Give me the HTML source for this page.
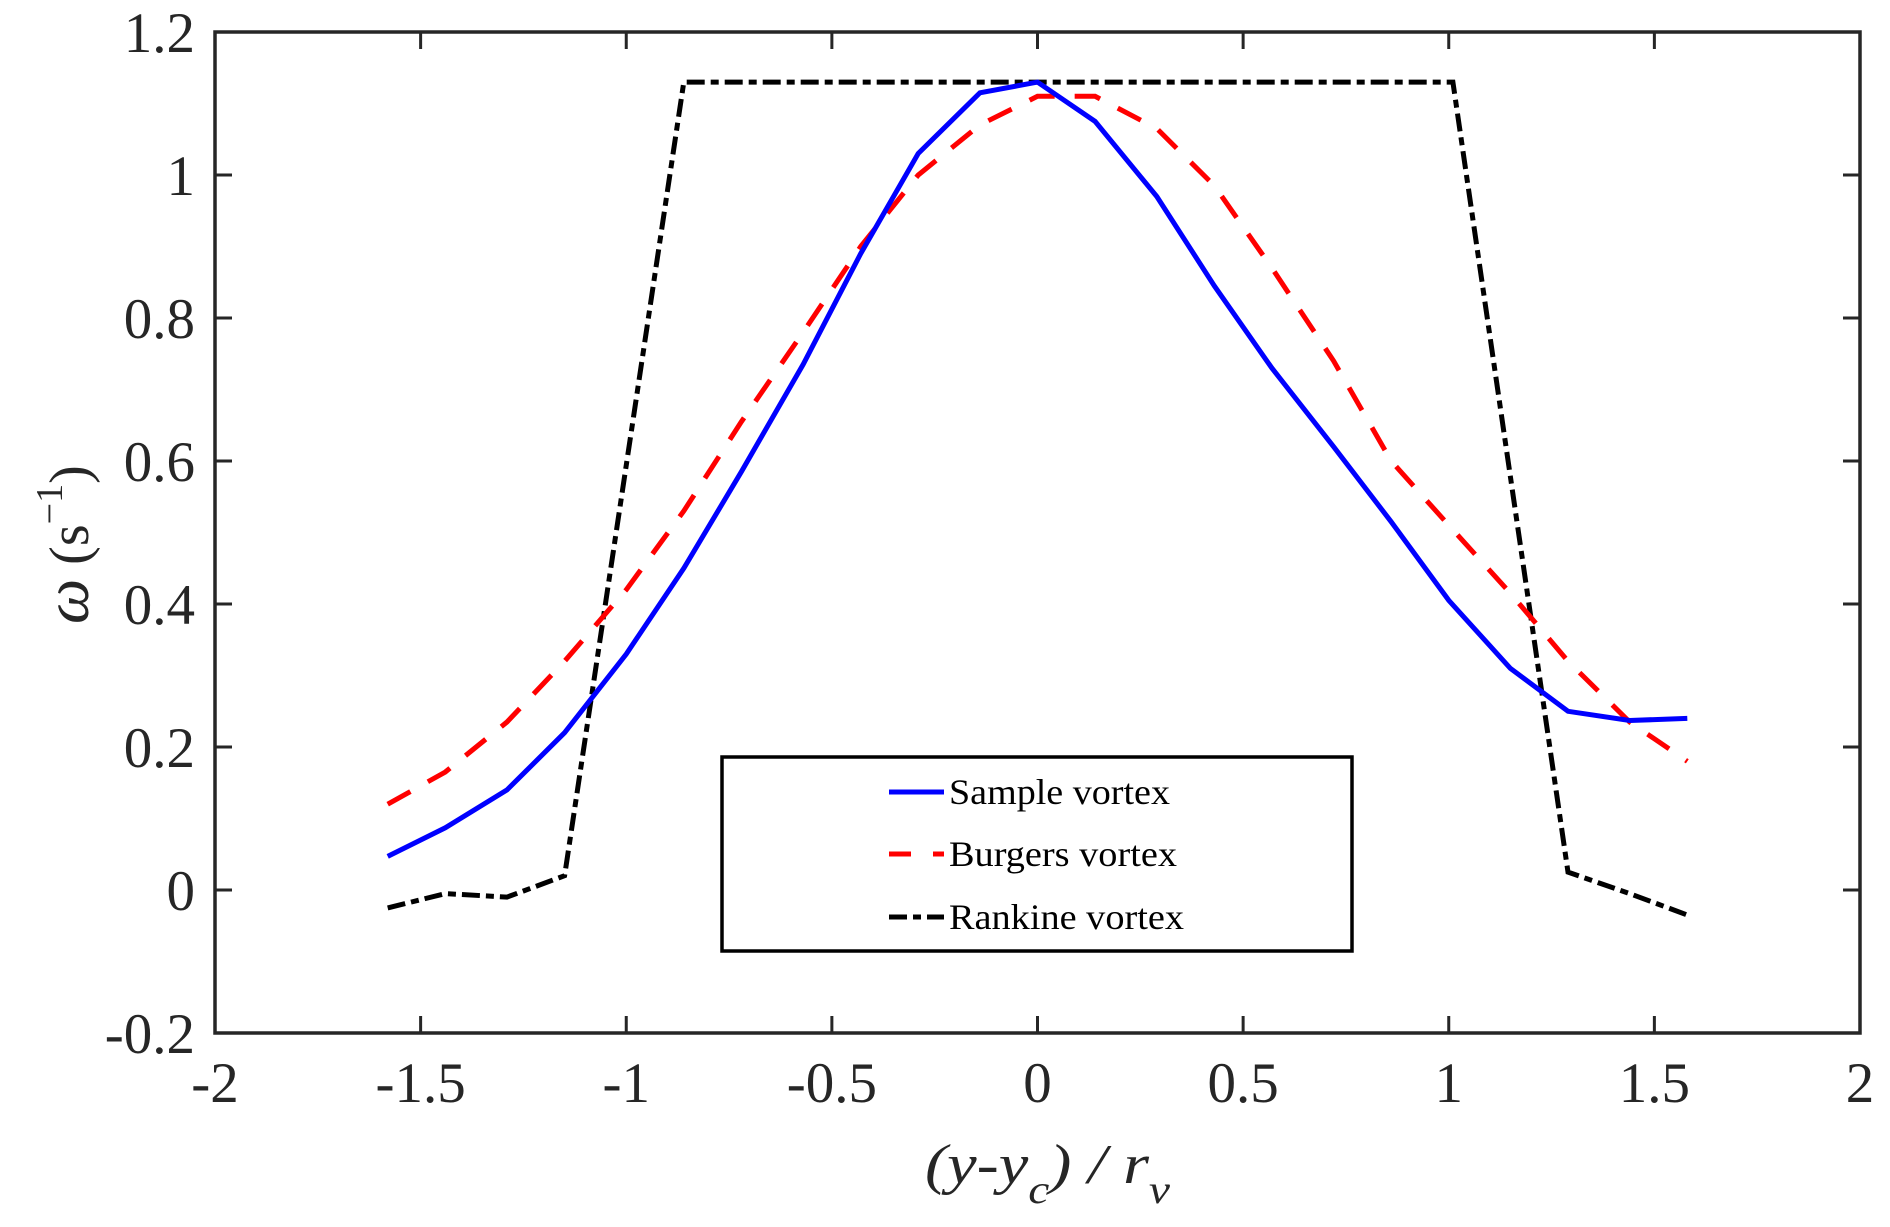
<!DOCTYPE html>
<html><head><meta charset="utf-8"><style>html,body{margin:0;padding:0;background:#fff}svg{display:block}</style></head>
<body>
<svg id="s" width="1890" height="1227" viewBox="0 0 1890 1227" xmlns="http://www.w3.org/2000/svg" font-family="'Liberation Serif', serif" fill="#262626">
<g id="g"></g>
<rect x="215" y="32" width="1645" height="1001" fill="none" stroke="#262626" stroke-width="3.5"/>
<g id="t" stroke="#262626" stroke-width="3"></g>
<g id="lab" font-size="57"></g>
<g>
<rect x="722" y="757" width="630" height="194" fill="#fff" stroke="#000" stroke-width="3.5"/>
<line x1="889" y1="792" x2="944" y2="792" stroke="#0000ff" stroke-width="5"/>
<line x1="889" y1="854" x2="944" y2="854" stroke="#ff0000" stroke-width="5" stroke-dasharray="22,22"/>
<line x1="889" y1="917" x2="944" y2="917" stroke="#000" stroke-width="5" stroke-dasharray="18,6,8,6"/>
<text x="949" y="804" font-size="36" fill="#000" textLength="221" lengthAdjust="spacingAndGlyphs">Sample vortex</text>
<text x="949" y="866" font-size="36" fill="#000" textLength="228" lengthAdjust="spacingAndGlyphs">Burgers vortex</text>
<text x="949" y="929" font-size="36" fill="#000" textLength="235" lengthAdjust="spacingAndGlyphs">Rankine vortex</text>
</g>
<text x="925" y="1183" font-size="56" font-style="italic" textLength="245" lengthAdjust="spacingAndGlyphs">(y-y<tspan font-size="40" dy="20">c</tspan><tspan dy="-20">) / r</tspan><tspan font-size="40" dy="20">v</tspan></text>
<text transform="translate(88,624) rotate(-90)" font-size="56">
<tspan font-style="italic" font-size="64">ω</tspan> (s<tspan font-size="38" dy="-26">−1</tspan><tspan dy="26">)</tspan></text>
</svg>
<script>
const X=v=>1037.5+411.25*v, Y=v=>890-715*v;
const xs=[-1.58,-1.44,-1.29,-1.15,-1.0,-0.86,-0.72,-0.57,-0.43,-0.29,-0.14,0,0.14,0.29,0.43,0.57,0.72,0.86,1.0,1.15,1.29,1.44,1.58];
const samp=[0.047,0.087,0.14,0.22,0.33,0.45,0.585,0.735,0.89,1.03,1.115,1.13,1.075,0.97,0.845,0.73,0.62,0.515,0.405,0.31,0.25,0.237,0.24];
const burg=[0.12,0.165,0.235,0.32,0.42,0.53,0.655,0.78,0.9,1.0,1.07,1.11,1.11,1.065,0.985,0.87,0.74,0.6,0.51,0.415,0.32,0.235,0.18];
const rank=[[-1.58,-0.025],[-1.44,-0.005],[-1.29,-0.01],[-1.15,0.02],[-0.86,1.13],[1.01,1.13],[1.29,0.025],[1.44,-0.005],[1.58,-0.035]];
const pts=a=>a.map(p=>X(p[0]).toFixed(1)+','+Y(p[1]).toFixed(1)).join(' ');
const z=(a)=>xs.map((x,i)=>[x,a[i]]);
let g='';
g+=`<polyline points="${pts(rank)}" fill="none" stroke="#000" stroke-width="5" stroke-dasharray="18,6,8,6"/>`;
g+=`<polyline points="${pts(z(burg))}" fill="none" stroke="#ff0000" stroke-width="5" stroke-dasharray="26,20"/>`;
g+=`<polyline points="${pts(z(samp))}" fill="none" stroke="#0000ff" stroke-width="5"/>`;
document.getElementById('g').innerHTML=g;
let t='',l='';
for(let i=0;i<=8;i++){const v=-2+0.5*i,x=X(v);
 t+=`<line x1="${x}" y1="1033" x2="${x}" y2="1016"/><line x1="${x}" y1="32" x2="${x}" y2="49"/>`;
 l+=`<text x="${x}" y="1102" text-anchor="middle">${(v===0?'0':String(v))}</text>`;}
for(let i=0;i<=7;i++){const v=-0.2+0.2*i,y=Y(v);const s=(Math.round(v*10)/10);
 t+=`<line x1="215" y1="${y}" x2="232" y2="${y}"/><line x1="1860" y1="${y}" x2="1843" y2="${y}"/>`;
 l+=`<text x="195" y="${y+20}" text-anchor="end">${s===0?'0':String(s)}</text>`;}
document.getElementById('t').innerHTML=t;document.getElementById('lab').innerHTML=l;
</script>
</body></html>
